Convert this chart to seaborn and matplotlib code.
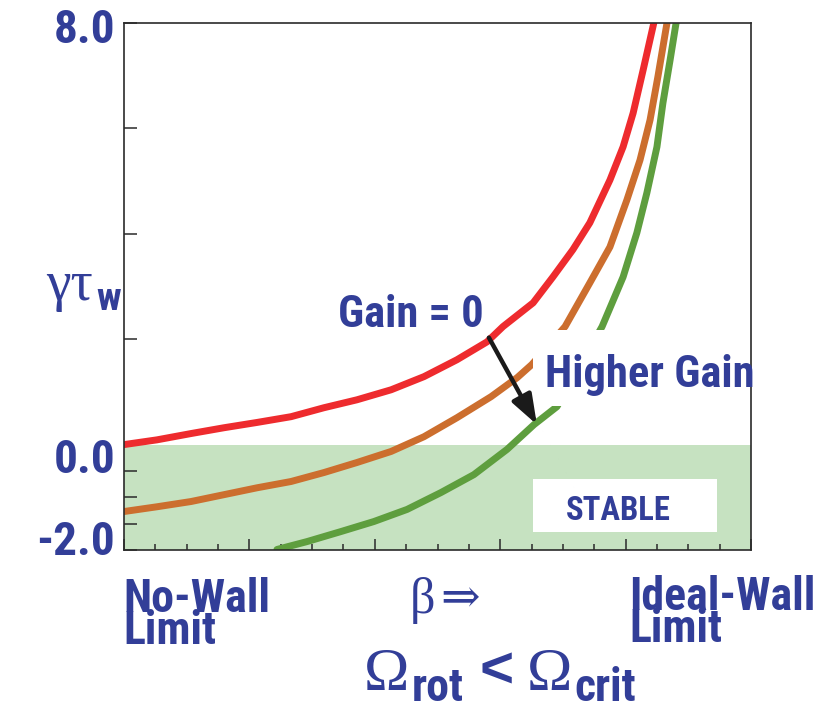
import numpy as np
import pandas as pd
import matplotlib
matplotlib.use("Agg")
import matplotlib.pyplot as plt
from matplotlib.patches import Rectangle
import seaborn as sns

# Growth rate (gamma * tau_w) versus beta, between the no-wall and ideal-wall limits
gain_zero_beta = [0.0, 1.05, 2.14, 3.19, 4.24, 5.33, 6.38, 7.43, 8.52, 9.57, 10.62, 11.58, 12.09,
                  13.05, 13.68, 14.32, 14.86, 15.50, 15.92, 16.24, 16.56, 16.90]
gain_zero_rate = [0.00, 0.09, 0.21, 0.32, 0.42, 0.53, 0.70, 0.85, 1.04, 1.29, 1.61, 1.95, 2.24,
                  2.69, 3.18, 3.70, 4.21, 5.02, 5.65, 6.29, 7.11, 8.00]

mid_gain_beta = [0.0, 1.05, 2.14, 3.19, 4.24, 5.33, 6.38, 7.43, 8.52, 9.57, 10.62, 11.71, 12.54,
                 13.01, 14.07, 14.86, 15.50, 16.04, 16.46, 16.78, 17.03, 17.32]
mid_gain_rate = [-1.27, -1.18, -1.08, -0.95, -0.82, -0.70, -0.53, -0.34, -0.13, 0.15, 0.51, 0.91, 1.27,
                 1.52, 2.24, 3.07, 3.75, 4.64, 5.40, 6.16, 6.98, 8.00]

high_gain_beta = [4.88, 5.84, 6.92, 7.97, 9.03, 10.11, 11.16, 12.22, 13.08, 13.81, 15.25, 15.92,
                  16.36, 16.68, 17.00, 17.19, 17.42, 17.61]
high_gain_rate = [-1.99, -1.84, -1.65, -1.46, -1.23, -0.91, -0.57, -0.09, 0.38, 0.72, 2.24, 3.18,
                  4.02, 4.78, 5.65, 6.48, 7.30, 8.00]

curve_names = ["gain0", "gain1", "gain2"]
curve_colors = ["#ee2b2e", "#cc6e2e", "#5e9e3e"]

ytick_labels = ["8.0", "0.0", "-2.0"]
ytick_text_y = [7.87, -0.30, -1.84]

df = pd.concat([
    pd.DataFrame({"beta": gain_zero_beta, "rate": gain_zero_rate, "curve": curve_names[0]}),
    pd.DataFrame({"beta": mid_gain_beta, "rate": mid_gain_rate, "curve": curve_names[1]}),
    pd.DataFrame({"beta": high_gain_beta, "rate": high_gain_rate, "curve": curve_names[2]}),
], ignore_index=True)

sns.set_theme(style="white")
SANS = ["Roboto Condensed", "Fira Sans Condensed", "DejaVu Sans"]
WIDE_SANS = ["Liberation Sans", "DejaVu Sans"]
SERIF = ["Liberation Serif", "DejaVu Serif"]
plt.rcParams["font.family"] = SANS
BLUE = "#323e98"

W, H = 824, 713
fig = plt.figure(figsize=(W / 100, H / 100), dpi=100)
ax = fig.add_axes([124 / W, 1 - 550 / H, 627 / W, 527 / H])


def fpos(x, y):
    return x / W, 1 - y / H


# stable region
ax.axhspan(-2, 0, color="#c6e2c1", lw=0, zorder=0)

sns.lineplot(data=df, x="beta", y="rate", hue="curve", palette=dict(zip(curve_names, curve_colors)),
             sort=False, lw=5, legend=False, ax=ax, zorder=2)

ax.set_xlim(0, 20)
ax.set_ylim(-2, 8)
ax.set_xlabel("")
ax.set_ylabel("")

for s in ax.spines.values():
    s.set_visible(True)
    s.set_color("#2a2a2a")
    s.set_linewidth(1.2)

ax.set_xticks(np.arange(0, 21, 4))
ax.set_xticks(np.arange(0, 21, 1), minor=True)
ax.set_yticks([8, 6, 4, 2, 0, -0.5, -1, -1.5, -2])
ax.tick_params(axis="x", which="major", direction="in", length=8, width=1.1, color="#2a2a2a",
               bottom=True, top=False, labelbottom=False)
ax.tick_params(axis="x", which="minor", direction="in", length=4, width=1.1, color="#2a2a2a",
               bottom=True, top=False)
ax.tick_params(axis="y", which="major", direction="in", length=9, width=1.1, color="#2a2a2a",
               left=True, right=False, labelleft=False)

# y value labels
for lab, ty in zip(ytick_labels, ytick_text_y):
    ax.text(-0.014, ty, lab, transform=ax.get_yaxis_transform(), ha="right", va="center",
            fontsize=34, fontweight="bold", color=BLUE, clip_on=False)

# white panel behind the "Higher Gain" label
ax.add_patch(Rectangle((13.05, 0.74), 6.8, 1.44, facecolor="white", edgecolor="none", zorder=3))
ax.text(13.43, 1.10, "Higher Gain", ha="left", va="baseline", fontsize=32, fontweight="bold",
        color=BLUE, zorder=4)
ax.text(6.83, 2.24, "Gain = 0", ha="left", va="baseline", fontsize=32, fontweight="bold",
        color=BLUE, zorder=4)

# STABLE box
ax.add_patch(Rectangle((13.05, -1.65), 5.87, 1.005, facecolor="white", edgecolor="none", zorder=3))
ax.text(15.76, -1.26, "STABLE", ha="center", va="center", fontsize=23.5, fontweight="bold",
        color=BLUE, zorder=4)

# arrow from the gain = 0 curve to the high gain curve
ax.annotate("", xy=(13.17, 0.38), xytext=(11.64, 2.03),
            arrowprops=dict(arrowstyle="-|>,head_length=0.5,head_width=0.18", mutation_scale=36,
                            lw=3.2, color="#1a1a1a", shrinkA=0, shrinkB=0), zorder=5)

# y-axis label: gamma tau_w
fig.text(*fpos(46, 300), "γτ", ha="left", va="baseline", fontsize=40, color=BLUE, family=SERIF)
fig.text(*fpos(96, 310), "w", ha="left", va="baseline", fontsize=28, fontweight="bold", color=BLUE)

# limits along the beta axis (anchored at the baseline of the second line)
fig.text(*fpos(123, 644), "No-Wall\nLimit", ha="left", va="baseline", ma="left", linespacing=0.66,
         fontsize=33, fontweight="bold", color=BLUE)
fig.text(*fpos(629, 642), "Ideal-Wall\nLimit", ha="left", va="baseline", ma="left", linespacing=0.66,
         fontsize=33, fontweight="bold", color=BLUE)

fig.text(*fpos(410, 613), "β", ha="left", va="baseline", fontsize=36, color=BLUE, family=SERIF)
fig.text(*fpos(440, 613), "⇒", ha="left", va="baseline", fontsize=34, color=BLUE, family=SERIF)

fig.text(*fpos(364, 690), "Ω", ha="left", va="baseline", fontsize=44, color=BLUE, family=SERIF)
fig.text(*fpos(412, 701), "rot", ha="left", va="baseline", fontsize=33, fontweight="bold", color=BLUE)
fig.text(*fpos(479, 673), "<", ha="left", va="center", fontsize=42, fontweight="bold", color=BLUE,
         family=WIDE_SANS)
fig.text(*fpos(527, 690), "Ω", ha="left", va="baseline", fontsize=44, color=BLUE, family=SERIF)
fig.text(*fpos(574, 701), "crit", ha="left", va="baseline", fontsize=33, fontweight="bold", color=BLUE)

fig.savefig("out.png", dpi=100)
